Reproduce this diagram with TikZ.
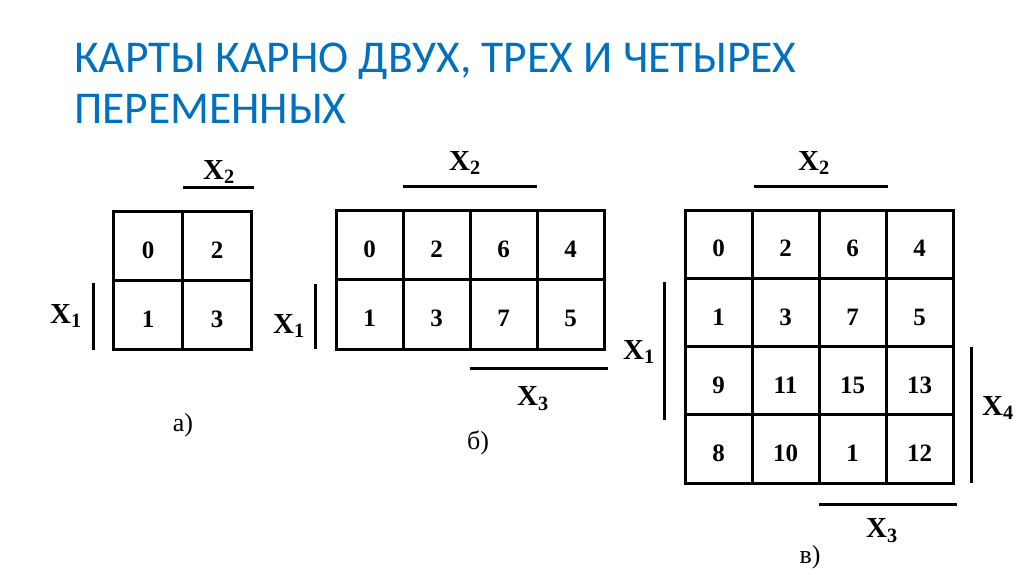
\documentclass[tikz,border=0pt]{standalone}
\usepackage{fontspec}
\setmainfont{Liberation Serif}
\newfontfamily\titlefont{Carlito}
\usetikzlibrary{positioning}
\definecolor{titleblue}{RGB}{0,112,192}

\begin{document}
\begin{tikzpicture}[x=1pt,y=-1pt,node distance=0pt and 0pt,
   title/.style={font=\titlefont\fontsize{45.5}{48}\selectfont,text=titleblue,
     inner sep=0pt,anchor=base west},
   cell/.style={draw,line width=3pt,inner sep=0pt,outer sep=0pt,
     text height=25pt,text depth=0pt,
     font=\fontsize{25}{27}\selectfont\bfseries},
   acell/.style={cell,minimum width=69pt,minimum height=69pt},
   bcell/.style={cell,minimum width=67pt,minimum height=69.5pt},
   ccell/.style={cell,minimum width=67pt,minimum height=68.3pt},
   bar/.style={line width=3pt},
   var/.style={font=\fontsize{29}{31}\selectfont\bfseries,inner sep=0pt},
   sub/.style={font=\fontsize{26}{28}\selectfont,inner sep=0pt}]
  \useasboundingbox (0,0) rectangle (1024,574);

  % title
  \node[title] (title1) at (74,72) {КАРТЫ КАРНО ДВУХ, ТРЕХ И ЧЕТЫРЕХ};
  \node[title] (title2) at (74,123) {ПЕРЕМЕННЫХ};

  % map a) -- two variables
  \node[acell] (a11) at (148,246) {0};
  \node[acell] (a12) [right=of a11] {2};
  \node[acell] (a21) [below=of a11] {1};
  \node[acell] (a22) [right=of a21] {3};
  \draw[bar] ([yshift=24pt]a12.north west) -- ([xshift=2pt,yshift=24pt]a12.north east);
  \draw[bar] ([xshift=-20pt,yshift=-2pt]a21.north west) -- ([xshift=-20pt]a21.south west);
  \node[var] (ax2) at (219,172) {X\textsubscript{2}};
  \node[var] (ax1) at (66,316) {X\textsubscript{1}};
  \node[sub] (alab) at (183,425) {а)};

  % map b) -- three variables
  \node[bcell] (b11) at (369.5,244.75) {0};
  \node[bcell] (b12) [right=of b11] {2};
  \node[bcell] (b13) [right=of b12] {6};
  \node[bcell] (b14) [right=of b13] {4};
  \node[bcell] (b21) [below=of b11] {1};
  \node[bcell] (b22) [right=of b21] {3};
  \node[bcell] (b23) [right=of b22] {7};
  \node[bcell] (b24) [right=of b23] {5};
  \draw[bar] ([yshift=24pt]b12.north west) -- ([yshift=24pt]b13.north east);
  \draw[bar] ([xshift=-21pt,yshift=-4pt]b21.north west) -- ([xshift=-21pt]b21.south west);
  \draw[bar] ([yshift=-19pt]b23.south west) -- ([xshift=4pt,yshift=-19pt]b24.south east);
  \node[var] (bx2) at (465,163) {X\textsubscript{2}};
  \node[var] (bx1) at (289,326) {X\textsubscript{1}};
  \node[var] (bx3) at (533,399) {X\textsubscript{3}};
  \node[sub] (blab) at (478,443) {б)};

  % map c) -- four variables
  \node[ccell] (c11) at (718.5,244.2) {0};
  \node[ccell] (c12) [right=of c11] {2};
  \node[ccell] (c13) [right=of c12] {6};
  \node[ccell] (c14) [right=of c13] {4};
  \node[ccell] (c21) [below=of c11] {1};
  \node[ccell] (c22) [right=of c21] {3};
  \node[ccell] (c23) [right=of c22] {7};
  \node[ccell] (c24) [right=of c23] {5};
  \node[ccell] (c31) [below=of c21] {9};
  \node[ccell] (c32) [right=of c31] {11};
  \node[ccell] (c33) [right=of c32] {15};
  \node[ccell] (c34) [right=of c33] {13};
  \node[ccell] (c41) [below=of c31] {8};
  \node[ccell] (c42) [right=of c41] {10};
  \node[ccell] (c43) [right=of c42] {1};
  \node[ccell] (c44) [right=of c43] {12};
  \draw[bar] ([xshift=2pt,yshift=24pt]c12.north west) -- ([xshift=2pt,yshift=24pt]c13.north east);
  \draw[bar] ([xshift=-21pt,yshift=-4pt]c21.north west) -- ([xshift=-21pt,yshift=-5pt]c31.south west);
  \draw[bar] ([xshift=18pt]c34.north east) -- ([xshift=18pt]c44.south east);
  \draw[bar] ([yshift=-21pt]c43.south west) -- ([xshift=4pt,yshift=-21pt]c44.south east);
  \node[var] (cx2) at (814,163) {X\textsubscript{2}};
  \node[var] (cx1) at (639,352) {X\textsubscript{1}};
  \node[var] (cx4) at (998,408) {X\textsubscript{4}};
  \node[var] (cx3) at (882,531) {X\textsubscript{3}};
  \node[sub] (clab) at (810,557) {в)};
\end{tikzpicture}
\end{document}
